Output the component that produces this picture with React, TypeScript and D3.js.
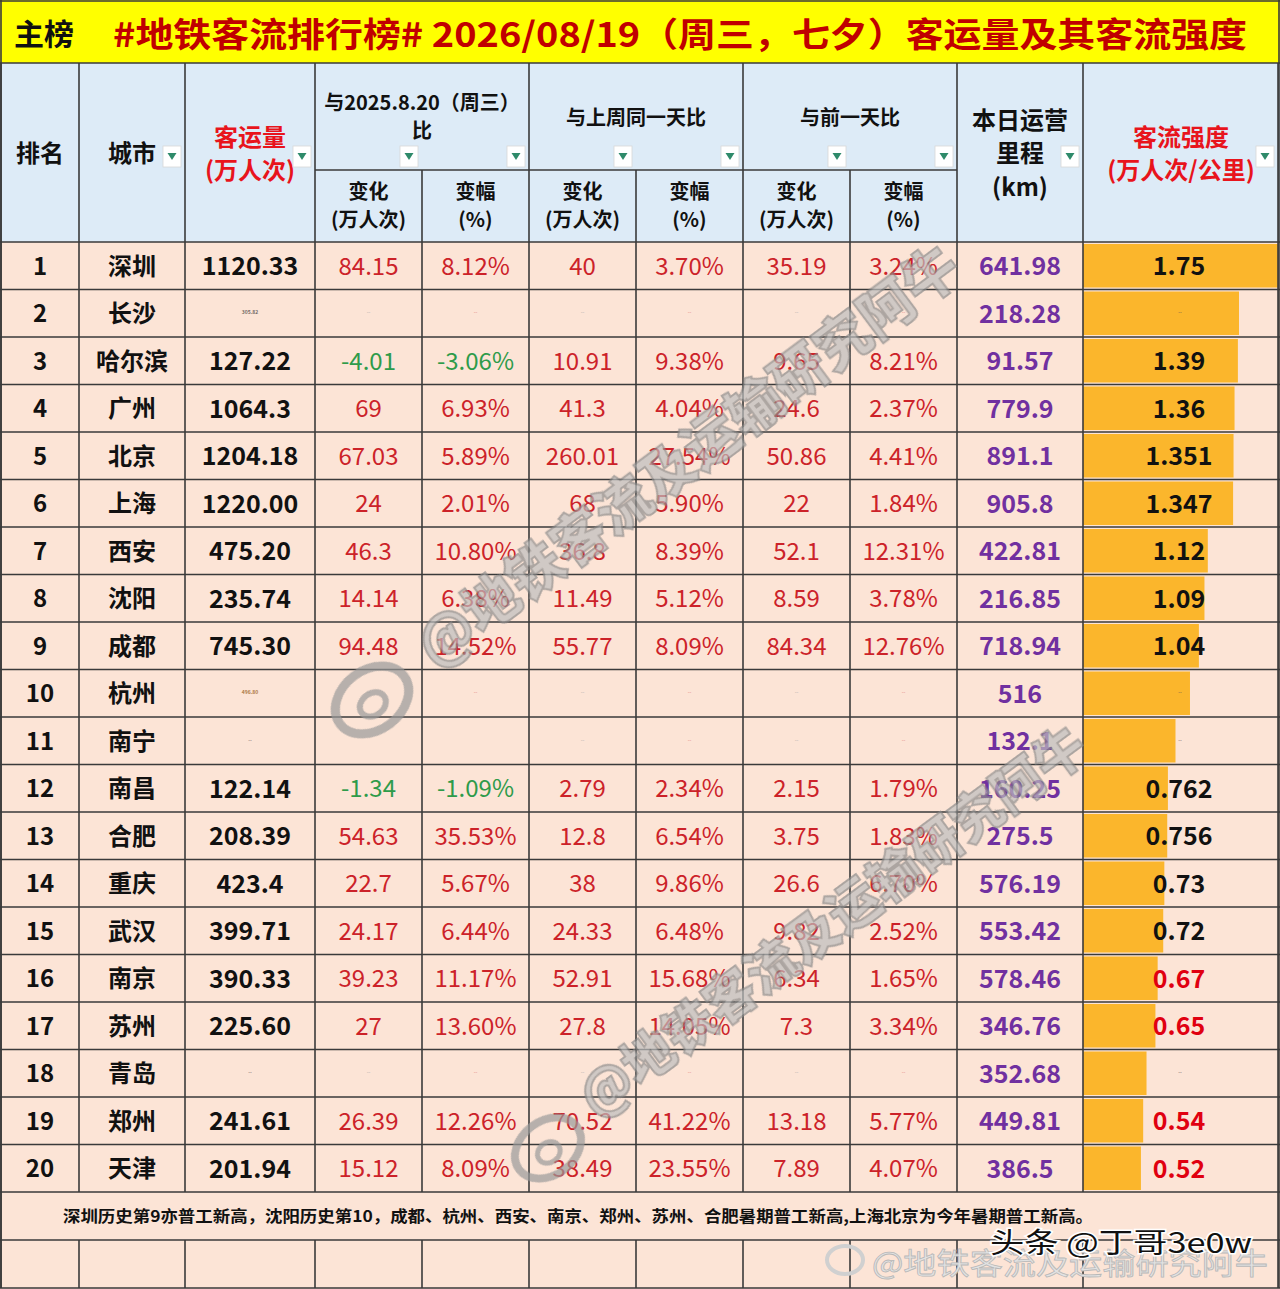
import React from "react";
import * as d3 from "d3";

const cities = ["深圳","长沙","哈尔滨","广州","北京","上海","西安","沈阳","成都","杭州","南宁","南昌","合肥","重庆","武汉","南京","苏州","青岛","郑州","天津"];
const ranks = ["1","2","3","4","5","6","7","8","9","10","11","12","13","14","15","16","17","18","19","20"];
const volume = ["1120.33","305.82","127.22","1064.3","1204.18","1220.00","475.20","235.74","745.30","496.80",null,"122.14","208.39","423.4","399.71","390.33","225.60",null,"241.61","201.94"];
const yoyChange = ["84.15",null,"-4.01","69","67.03","24","46.3","14.14","94.48",null,null,"-1.34","54.63","22.7","24.17","39.23","27",null,"26.39","15.12"];
const yoyPct = ["8.12%",null,"-3.06%","6.93%","5.89%","2.01%","10.80%","6.38%","14.52%",null,null,"-1.09%","35.53%","5.67%","6.44%","11.17%","13.60%",null,"12.26%","8.09%"];
const wowChange = ["40",null,"10.91","41.3","260.01","68","36.8","11.49","55.77",null,null,"2.79","12.8","38","24.33","52.91","27.8",null,"70.52","38.49"];
const wowPct = ["3.70%",null,"9.38%","4.04%","27.54%","5.90%","8.39%","5.12%","8.09%",null,null,"2.34%","6.54%","9.86%","6.48%","15.68%","14.05%",null,"41.22%","23.55%"];
const dodChange = ["35.19",null,"9.65","24.6","50.86","22","52.1","8.59","84.34",null,null,"2.15","3.75","26.6","9.82","6.34","7.3",null,"13.18","7.89"];
const dodPct = ["3.24%",null,"8.21%","2.37%","4.41%","1.84%","12.31%","3.78%","12.76%",null,null,"1.79%","1.83%","6.70%","2.52%","1.65%","3.34%",null,"5.77%","4.07%"];
const mileage = ["641.98","218.28","91.57","779.9","891.1","905.8","422.81","216.85","718.94","516","132.1","160.25","275.5","576.19","553.42","578.46","346.76","352.68","449.81","386.5"];
const intensity = [1.75,1.40,1.39,1.36,1.351,1.347,1.12,1.09,1.04,0.96,0.83,0.762,0.756,0.73,0.72,0.67,0.65,0.57,0.54,0.52];
const intensityLabel = ["1.75",null,"1.39","1.36","1.351","1.347","1.12","1.09","1.04",null,null,"0.762","0.756","0.73","0.72","0.67","0.65",null,"0.54","0.52"];

const titleMain = "主榜";
const titleText = "#地铁客流排行榜# 2026/08/19（周三，七夕）客运量及其客流强度";
const footNote = "深圳历史第9亦普工新高，沈阳历史第10，成都、杭州、西安、南京、郑州、苏州、合肥暑期普工新高,上海北京为今年暑期普工新高。";
const watermark = "@地铁客流及运输研究阿牛";
const watermark2 = "头条 @丁哥3e0w";

const W = 1280, H = 1289;
const EDGES = [1, 79, 185, 315, 422, 529, 636, 743, 850, 957, 1083, 1278];
const TITLE_B = 63, SUB_Y = 170, HEAD_B = 242, BODY_B = 1192, NOTE_B = 1240, END_B = 1288;
const FONT = "'Noto Sans CJK SC', 'Noto Sans', sans-serif";
const LINE = "#3a3a3a";
const RED = "#CC2229", GREEN = "#2E9B4A", PURPLE = "#7030A0";
const DY = -2;

export default function App() {
  const y = d3.scaleBand<string>().domain(ranks).range([HEAD_B, BODY_B]).padding(0);
  const bw = y.bandwidth();
  const x0 = EDGES[10];
  const barScale = d3.scaleLinear().domain([0, 1.75]).range([0, EDGES[11] - EDGES[10]]);
  const cx = (i: number) => (EDGES[i] + EDGES[i + 1]) / 2;

  const valueCols: (string | null)[][] = [yoyChange, yoyPct, wowChange, wowPct, dodChange, dodPct];
  const tiny = (key: string, xx: number, yy: number, txt: string, color: string) => (
    <text key={key} x={xx} y={yy} textAnchor="middle" dominantBaseline="central" fontSize={5} fill={color} fontWeight={700} opacity={0.7}>{txt}</text>
  );

  const icons = [2, 3, 4, 5, 6, 7, 8, 9, 10, 11];
  const hdr = (txt: string, xx: number, yy: number, size = 24, color = "#111", extra: any = {}) => (
    <text x={xx} y={yy + DY} textAnchor="middle" dominantBaseline="central" fontSize={size} fontWeight={700} fill={color} {...extra}>{txt}</text>
  );

  return (
    <div style={{ position: "absolute", left: 0, top: 0 }}>
      <svg width={W} height={H} style={{ display: "block", fontFamily: FONT }}>
        <rect x={0} y={0} width={W} height={H} fill="#FCE4D6" />
        {/* title */}
        <rect x={0} y={0} width={W} height={TITLE_B} fill="#FFFF00" />
        <text x={14} y={32} fontSize={30} fontWeight={700} fill="#111" dominantBaseline="central">{titleMain}</text>
        <text x={113} y={32} fontSize={34} fontWeight={700} fill="#C00000" dominantBaseline="central" textLength={1134} lengthAdjust="spacingAndGlyphs">{titleText}</text>
        {/* header */}
        <rect x={0} y={TITLE_B} width={W} height={HEAD_B - TITLE_B} fill="#DDEBF7" />
        {hdr("排名", cx(0), 153)}
        {hdr("城市", 132, 153)}
        {hdr("客运量", cx(2), 137, 24, "#E8141C")}
        {hdr("(万人次)", cx(2), 170, 24, "#E8141C")}
        {hdr("与2025.8.20（周三）", 422, 103, 20)}
        {hdr("比", 422, 131, 20)}
        {hdr("与上周同一天比", 636, 118, 20)}
        {hdr("与前一天比", 850, 118, 20)}
        {[3, 4, 5, 6, 7, 8].map((c) => (
          <g key={"sub" + c}>
            {hdr(c % 2 === 1 ? "变化" : "变幅", cx(c), 192, 20)}
            {hdr(c % 2 === 1 ? "(万人次)" : "(%)", cx(c), 220, 20)}
          </g>
        ))}
        {hdr("本日运营", cx(9), 120)}
        {hdr("里程", cx(9), 153)}
        {hdr("(km)", cx(9), 187)}
        {hdr("客流强度", 1181, 137, 24, "#E8141C")}
        {hdr("(万人次/公里)", 1181, 170, 24, "#E8141C")}
        {icons.map((e) => (
          <g key={"ic" + e}>
            <rect x={EDGES[e] - 22} y={146} width={18} height={21} fill="#ffffff" stroke="#d8d8d8" strokeWidth={0.8} />
            <path d={`M${EDGES[e] - 17.5},${153} L${EDGES[e] - 8.5},${153} L${EDGES[e] - 13},${160} Z`} fill="#2E8A6A" />
          </g>
        ))}
        {/* intensity bars */}
        {cities.map((c, i) => (
          <rect key={"bar" + i} x={x0} y={(y(ranks[i]) as number) + 2} width={barScale(intensity[i])} height={bw - 4} fill="#FBB62C" />
        ))}
        {/* rows */}
        {cities.map((c, i) => {
          const yy = (y(ranks[i]) as number) + bw / 2 + DY + 0.5;
          return (
            <g key={"row" + i}>
              <text x={cx(0)} y={yy} textAnchor="middle" dominantBaseline="central" fontSize={24} fontWeight={700} fill="#111">{ranks[i]}</text>
              <text x={cx(1)} y={yy} textAnchor="middle" dominantBaseline="central" fontSize={24} fontWeight={700} fill="#111">{c}</text>
              {volume[i] && (i === 1 || i === 9)
                ? tiny("vt" + i, cx(2), yy, volume[i] as string, i === 9 ? "#8a4a00" : "#333")
                : volume[i]
                ? <text x={cx(2)} y={yy} textAnchor="middle" dominantBaseline="central" fontSize={25} fontWeight={700} fill="#111">{volume[i]}</text>
                : tiny("vn" + i, cx(2), yy, "--", "#555")}
              {valueCols.map((arr, k) => {
                const v = arr[i];
                const xx = cx(3 + k);
                if (!v) return i === 10 && k < 2 ? null : tiny("d" + i + "-" + k, xx, yy, "--", k % 2 === 1 ? "#d77" : "#aaa");
                return (
                  <text key={"v" + i + "-" + k} x={xx} y={yy} textAnchor="middle" dominantBaseline="central" fontSize={24} fontWeight={400} fill={v.startsWith("-") ? GREEN : RED}>{v}</text>
                );
              })}
              <text x={cx(9)} y={yy} textAnchor="middle" dominantBaseline="central" fontSize={25} fontWeight={700} fill={PURPLE}>{mileage[i]}</text>
              {intensityLabel[i]
                ? <text x={1179} y={yy} textAnchor="middle" dominantBaseline="central" fontSize={25} fontWeight={700} fill={intensity[i] < 0.7 ? "#E00010" : "#111"}>{intensityLabel[i]}</text>
                : tiny("it" + i, 1180, yy, "--", "#555")}
            </g>
          );
        })}
        {/* footnote */}
        <text x={63} y={(BODY_B + NOTE_B) / 2 - 1} dominantBaseline="central" fontSize={16} fontWeight={700} fill="#111" textLength={1030} lengthAdjust="spacingAndGlyphs">{footNote}</text>
        {/* grid lines */}
        <g stroke={LINE} strokeWidth={1.6}>
          {[1, TITLE_B, HEAD_B, ...ranks.map((r) => (y(r) as number) + bw), NOTE_B, END_B].map((yy, i) => (
            <line key={"h" + i} x1={0} x2={W} y1={yy} y2={yy} />
          ))}
          <line x1={EDGES[3]} x2={EDGES[9]} y1={SUB_Y} y2={SUB_Y} />
          {EDGES.map((e, i) => {
            const partial = e === 422 || e === 636 || e === 850;
            return (
              <g key={"v" + i}>
                <line x1={e} x2={e} y1={partial ? SUB_Y : TITLE_B} y2={BODY_B} />
                <line x1={e} x2={e} y1={NOTE_B} y2={END_B} />
              </g>
            );
          })}
          <line x1={1} x2={1} y1={0} y2={END_B} />
          <line x1={1279} x2={1279} y1={0} y2={END_B} />
          <line x1={1} x2={1} y1={BODY_B} y2={NOTE_B} />
          <line x1={EDGES[11]} x2={EDGES[11]} y1={BODY_B} y2={NOTE_B} />
        </g>
        {/* watermarks */}
        <g opacity={0.7}>
          <g transform="translate(372,700) rotate(-37)">
            <ellipse cx={0} cy={0} rx={40} ry={30} fill="none" stroke="#9a9a9a" strokeWidth={9} />
            <ellipse cx={-2} cy={4} rx={14} ry={11} fill="none" stroke="#9a9a9a" strokeWidth={6} />
          </g>
          <text x={685} y={452} transform="rotate(-36.7 685 452)" textAnchor="middle" dominantBaseline="central" fontSize={56} fontWeight={900} fill="#bdbdbd" stroke="#8a8a8a" strokeWidth={2} textLength={660} lengthAdjust="spacingAndGlyphs">{watermark}</text>
          <g transform="translate(548,1148) rotate(-37)">
            <ellipse cx={0} cy={0} rx={36} ry={27} fill="none" stroke="#9a9a9a" strokeWidth={8} />
            <ellipse cx={-2} cy={4} rx={12} ry={10} fill="none" stroke="#9a9a9a" strokeWidth={5} />
          </g>
          <text x={830} y={918} transform="rotate(-36.4 830 918)" textAnchor="middle" dominantBaseline="central" fontSize={52} fontWeight={900} fill="#bdbdbd" stroke="#8a8a8a" strokeWidth={2} textLength={615} lengthAdjust="spacingAndGlyphs">{watermark}</text>
        </g>
        <g>
          <ellipse cx={845} cy={1260} rx={18} ry={14} fill="none" stroke="#d0d0d0" strokeWidth={4} />
          <text x={872} y={1261} dominantBaseline="central" fontSize={30} fill="#e2e2e2" stroke="#b8b8b8" strokeWidth={0.8} textLength={396} lengthAdjust="spacingAndGlyphs">{watermark}</text>
          <text x={990} y={1241} dominantBaseline="central" fontSize={28} fill="#111" stroke="#ffffff" strokeWidth={3} paintOrder="stroke" textLength={262} lengthAdjust="spacingAndGlyphs">{watermark2}</text>
        </g>
      </svg>
    </div>
  );
}
